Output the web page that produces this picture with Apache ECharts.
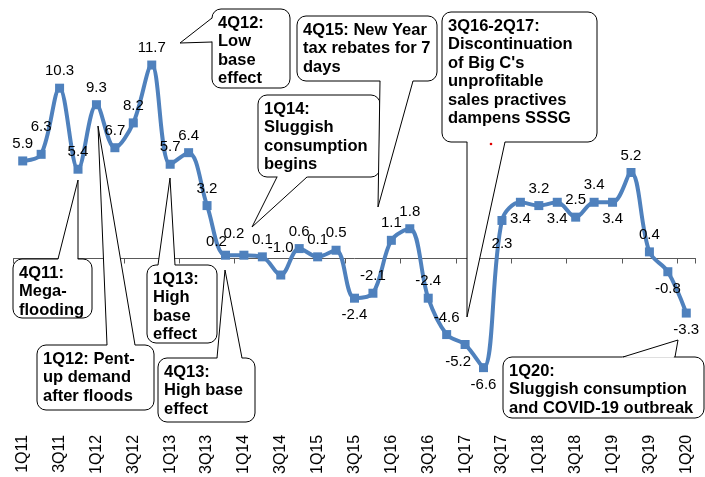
<!DOCTYPE html>
<html>
<head>
<meta charset="utf-8">
<script src="https://cdn.jsdelivr.net/npm/echarts@6/dist/echarts.min.js"></script>
<style>
  html, body { margin: 0; padding: 0; background: #fff; }
  #chart { width: 705px; height: 477px; }
</style>
</head>
<body>
<div id="chart"></div>
<script>
// quarters 1Q11 .. 1Q20
var quarters = [];
for (var y = 11; y <= 20; y++) {
	for (var q = 1; q <= 4; q++) {
		if (y === 20 && q > 1) break;
		quarters.push(q + 'Q' + y);
	}
}
// SSSG, % YoY
var sssg = [5.9, 6.3, 10.3, 5.4, 9.3, 6.7, 8.2, 11.7, 5.7, 6.4, 3.2, 0.2, 0.2, 0.1, -1.0, 0.6, 0.1, 0.5,
	-2.4, -2.1, 1.1, 1.8, -2.4, -4.6, -5.2, -6.6, 2.3, 3.4, 3.2, 3.4, 2.5, 3.4, 3.4, 5.2, 0.4, -0.8, -3.3];
// where each value label sits (t = above, b = below)
var labelSide = ['t', 'tt', 't', 't', 't', 't', 't', 't', 't', 't', 't', 'tl', 'tl2', 't', 'tt', 't', 't', 't',
	'b', 't', 't', 't', 't', 't', 'bl', 'b', 'bb', 'b', 't', 'b', 't', 't', 'b', 't', 't', 'b', 'b'];

var sideStyle = {
	t: { position: 'top', offset: [0, 0] },
	tt: { position: 'top', offset: [0, -10] },
	tl: { position: 'top', offset: [-9, 4] },
	tl2: { position: 'top', offset: [-10, -4] },
	b: { position: 'bottom', offset: [0, 0] },
	bb: { position: 'bottom', offset: [0, 6] },
	bl: { position: 'bottom', offset: [-7, 0] }
};

var blue = '#4f81bd';
var font = '"Liberation Sans", Arial, sans-serif';

// callout box with a pointer tail
function callout(x, y, w, h, lines, a, tip, b) {
	// push the fill of the tail a bit into the box so the border gap is hidden
	var mx = (a[0] + b[0]) / 2 - tip[0], my = (a[1] + b[1]) / 2 - tip[1];
	var len = Math.sqrt(mx * mx + my * my);
	var dx = mx / len * 1.5, dy = my / len * 1.5;
	return [{
		type: 'rect', z: 100,
		shape: { x: x, y: y, width: w, height: h, r: 9 },
		style: { fill: '#fff', stroke: '#000', lineWidth: 1 }
	}, {
		type: 'polygon', z: 101,
		shape: { points: [[a[0] + dx, a[1] + dy], tip, [b[0] + dx, b[1] + dy]] },
		style: { fill: '#fff' }
	}, {
		type: 'polyline', z: 102,
		shape: { points: [a, tip, b] },
		style: { stroke: '#000', fill: null, lineWidth: 1 }
	}, {
		type: 'text', z: 103, x: x + 6, y: y + 5,
		style: {
			text: lines.join('\n'), fill: '#000', fontSize: 16.5, fontWeight: 'bold',
			fontFamily: font, lineHeight: 18.5, verticalAlign: 'top'
		}
	}];
}

var notes = [].concat(
	callout(212, 9, 78, 79, ['4Q12:', 'Low', 'base', 'effect'], [212, 18], [180, 43], [212, 42]),
	callout(258, 95, 122, 82, ['1Q14:', 'Sluggish', 'consumption', 'begins'], [277, 177], [252, 227], [307, 177]),
	callout(297, 16, 140, 65, ['4Q15: New Year', 'tax rebates for 7', 'days'], [380, 81], [378, 207], [413, 81]),
	callout(442, 12, 155, 130, ['3Q16-2Q17:', 'Discontinuation', "of Big C's", 'unprofitable', 'sales practives', 'dampens SSSG'], [467, 142], [467, 317], [505, 142]),
	callout(13, 259, 79, 59, ['4Q11:', 'Mega-', 'flooding'], [58, 259], [78, 180], [78, 259]),
	callout(37, 345, 117, 65, ['1Q12: Pent-', 'up demand', 'after floods'], [107, 345], [98, 126], [135, 345]),
	callout(147, 265, 70, 78, ['1Q13:', 'High', 'base', 'effect'], [158, 265], [170, 178], [175, 265]),
	callout(158, 358, 97, 64, ['4Q13:', 'High base', 'effect'], [217, 358], [225, 270], [242, 358]),
	callout(503, 357, 201, 61, ['1Q20:', 'Sluggish consumption', 'and COVID-19 outbreak'], [623, 357], [678, 340], [675, 357])
);
notes.push({ type: 'circle', z: 104, shape: { cx: 491, cy: 144, r: 1.3 }, style: { fill: '#e00000' } });

var myChart = echarts.init(document.getElementById('chart'));
var option = {
	animation: false,
	grid: { left: 13.5, width: 682, top: 27, bottom: 49 },
	xAxis: [{
		type: 'category',
		data: quarters,
		boundaryGap: true,
		axisLine: { onZero: true, lineStyle: { color: '#595959', width: 1 } },
		axisTick: { show: true, length: 5, lineStyle: { color: '#595959' } },
		axisLabel: { show: false },
		splitLine: { show: false }
	}, {
		type: 'category',
		data: quarters,
		position: 'bottom',
		boundaryGap: true,
		axisLine: { show: false, onZero: false },
		axisTick: { show: false },
		axisLabel: {
			rotate: 90, interval: 1, margin: 11,
			fontSize: 16, color: '#000', fontFamily: font
		},
		splitLine: { show: false }
	}],
	yAxis: {
		type: 'value',
		min: -10,
		max: 14,
		axisLine: { show: false },
		axisTick: { show: false },
		axisLabel: { show: false },
		splitLine: { show: false }
	},
	series: [{
		type: 'line',
		xAxisIndex: 0,
		smooth: 0.35,
		symbol: 'rect',
		symbolSize: 9,
		lineStyle: { width: 4, color: blue },
		itemStyle: { color: blue },
		label: {
			show: true,
			fontSize: 15,
			color: '#000',
			fontFamily: font,
			formatter: function(p) { return p.value.toFixed(1); }
		},
		data: sssg.map(function(v, i) {
			return { value: v, label: sideStyle[labelSide[i]] };
		})
	}],
	graphic: notes
};
myChart.setOption(option);
</script>
</body>
</html>
